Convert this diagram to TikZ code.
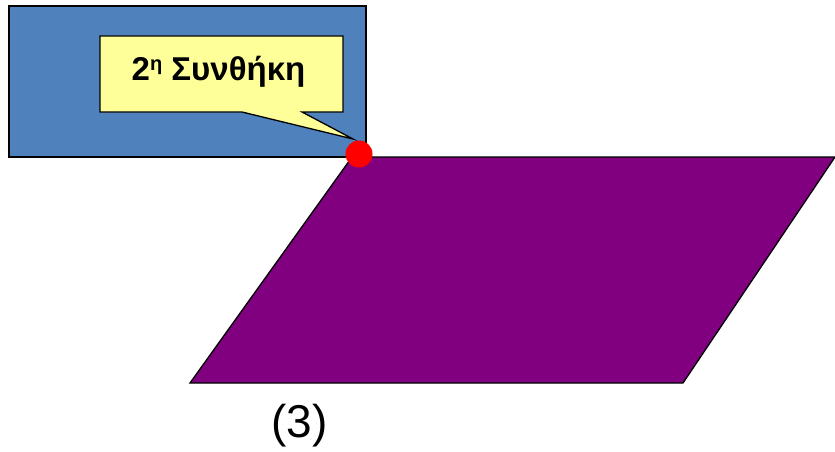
\documentclass[tikz,border=0pt]{standalone}
\usepackage{fontspec}
\setmainfont{Liberation Sans}
\begin{document}
\begin{tikzpicture}[x=1pt,y=-1pt,
  outline/.style={draw=black,line width=1.3pt},
  label/.style={inner sep=0pt,anchor=base}]
\useasboundingbox (0,0) rectangle (835,452);
% blue panel
\filldraw[outline,fill={rgb,255:red,79;green,129;blue,189}] (9,6) rectangle (366,157);
% parallelogram
\filldraw[outline,fill={rgb,255:red,128;green,0;blue,128}] (352,157) -- (835,157) -- (683,383) -- (190,383) -- cycle;
% callout
\coordinate (tip) at (353,139);
\filldraw[outline,fill={rgb,255:red,255;green,255;blue,153}]
  (100,36) -- (343,36) -- (343,112) -- (302,112) -- (tip) -- (242,112) -- (100,112) -- cycle;
\node[label,font=\bfseries\fontsize{33}{36}\selectfont] (t) at (218.5,81) {2\raisebox{0.33em}{\fontsize{20}{22}\selectfont η} Συνθήκη};
% red dot
\fill[red] (359,154) circle (13.5);
\node[label,font=\fontsize{46}{48}\selectfont] (n) at (299.5,437) {(3)};
\end{tikzpicture}
\end{document}
